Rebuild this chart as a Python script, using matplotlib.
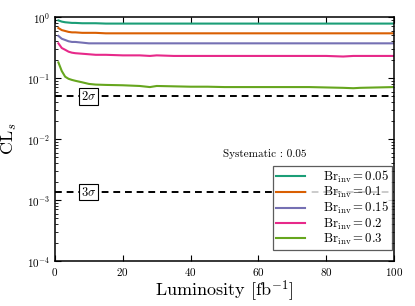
import matplotlib
matplotlib.use("Agg")
import matplotlib.pyplot as plt
import numpy as np

plt.rcParams['font.family'] = 'serif'
plt.rcParams['font.serif'] = ['cmr10', 'DejaVu Serif']
plt.rcParams['mathtext.fontset'] = 'cm'
plt.rcParams['axes.unicode_minus'] = False
plt.rcParams['axes.formatter.use_mathtext'] = True

lumi = [1, 2, 3, 4, 5, 6, 8, 10, 12, 15, 20, 25, 28, 30, 35, 40, 45, 50, 55, 60, 65, 70, 75, 80, 85, 88, 90, 95, 100]
cls_005 = [0.88, 0.84, 0.82, 0.81, 0.80, 0.80, 0.79, 0.79, 0.79, 0.78, 0.78, 0.78, 0.78, 0.78, 0.78, 0.78, 0.78, 0.78, 0.78, 0.78, 0.78, 0.78, 0.78, 0.78, 0.78, 0.78, 0.78, 0.78, 0.78]
cls_01 = [0.66, 0.61, 0.59, 0.57, 0.56, 0.56, 0.55, 0.55, 0.55, 0.54, 0.54, 0.54, 0.54, 0.54, 0.54, 0.54, 0.54, 0.54, 0.54, 0.54, 0.54, 0.54, 0.54, 0.54, 0.54, 0.54, 0.54, 0.54, 0.54]
cls_015 = [0.49, 0.44, 0.42, 0.40, 0.39, 0.39, 0.38, 0.37, 0.37, 0.37, 0.37, 0.37, 0.37, 0.37, 0.37, 0.37, 0.37, 0.37, 0.37, 0.37, 0.37, 0.37, 0.37, 0.37, 0.37, 0.37, 0.37, 0.37, 0.37]
cls_02 = [0.37, 0.31, 0.29, 0.27, 0.26, 0.255, 0.25, 0.245, 0.24, 0.24, 0.235, 0.235, 0.23, 0.235, 0.23, 0.23, 0.23, 0.23, 0.23, 0.23, 0.23, 0.23, 0.23, 0.23, 0.225, 0.23, 0.23, 0.23, 0.23]
cls_03 = [0.18, 0.13, 0.105, 0.097, 0.093, 0.09, 0.085, 0.080, 0.078, 0.077, 0.076, 0.074, 0.071, 0.074, 0.073, 0.072, 0.072, 0.071, 0.071, 0.071, 0.071, 0.071, 0.071, 0.070, 0.069, 0.068, 0.069, 0.070, 0.071]

series = [cls_005, cls_01, cls_015, cls_02, cls_03]
labels = [r'$\mathrm{Br}_{\mathrm{inv}}=0.05$', r'$\mathrm{Br}_{\mathrm{inv}}=0.1$',
          r'$\mathrm{Br}_{\mathrm{inv}}=0.15$', r'$\mathrm{Br}_{\mathrm{inv}}=0.2$',
          r'$\mathrm{Br}_{\mathrm{inv}}=0.3$']
colors = ['#1b9e77', '#d95f02', '#7570b3', '#e7298a', '#66a61e']

sig_levels = [0.05, 0.00135]
sig_labels = [r'$2\sigma$', r'$3\sigma$']

fig = plt.figure(figsize=(4.15, 3.06), dpi=100)
ax = fig.add_axes([55/415, 1 - 261/306, (394-55)/415, (261-17)/306])

for ys, lab, c in zip(series, labels, colors):
    ax.plot(lumi, ys, color=c, lw=1.5, label=lab)

for lv, sl in zip(sig_levels, sig_labels):
    ax.axhline(lv, color='black', ls='--', lw=1.4, dashes=(3.5, 2.5))
    ax.text(10, lv, sl, fontsize=9, ha='center', va='center',
            bbox=dict(boxstyle='square,pad=0.15', fc='white', ec='black', lw=0.8))

ax.text(62, 0.0056, 'Systematic : 0.05', fontsize=8, ha='center', va='center')

ax.set_yscale('log')
ax.set_ylim(1e-4, 1)
ax.set_xlim(0, 100)
ax.set_xticks([0, 20, 40, 60, 80, 100])
for s in ax.spines.values():
    s.set_linewidth(1.1)
ax.tick_params(which='both', direction='in', top=True, right=True, labelsize=8)
ax.tick_params(which='major', length=4)
ax.tick_params(which='minor', length=2)
ax.set_xlabel(r'Luminosity [fb$^{-1}$]', fontsize=13, labelpad=1)
ax.set_ylabel(r'CL$_s$', fontsize=13, labelpad=6)

leg = ax.legend(loc='lower right', fontsize=9.2, frameon=True, fancybox=False,
                handlelength=2.3, labelspacing=0.0, borderpad=0.25,
                handletextpad=1.4, borderaxespad=0.0,
                bbox_to_anchor=(0.995, 0.045))
leg.get_frame().set_edgecolor('#333333')
leg.get_frame().set_linewidth(0.9)

fig.savefig('out.png', dpi=100)
